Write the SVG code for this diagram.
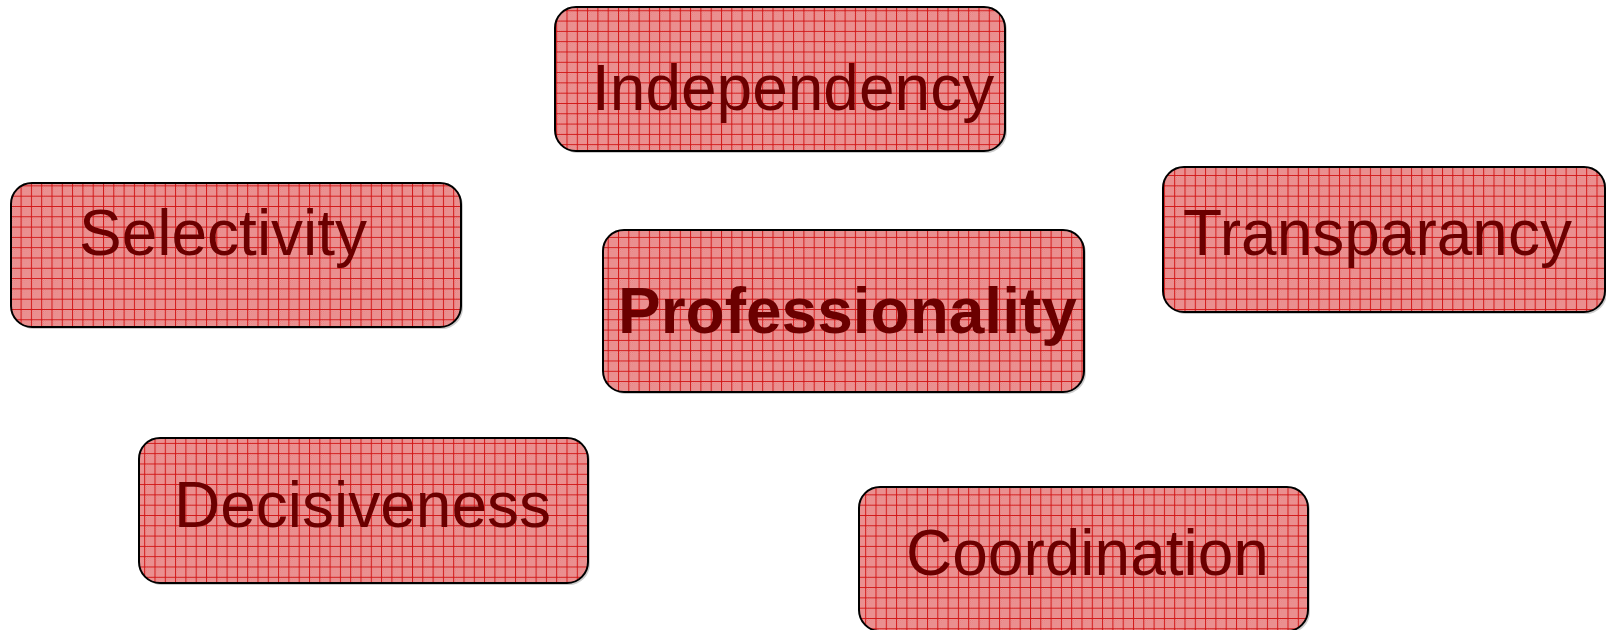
<svg xmlns="http://www.w3.org/2000/svg" width="1606" height="630" viewBox="0 0 1606 630">
<defs>
<pattern id="dither" patternUnits="userSpaceOnUse" width="2" height="2">
<rect width="2" height="2" fill="#F2A6A6"/>
<rect width="1" height="1" fill="#E27878"/>
<rect x="1" y="1" width="1" height="1" fill="#E27878"/>
</pattern>
<pattern id="grid" patternUnits="userSpaceOnUse" width="10.3" height="10.3">
<rect width="10.3" height="10.3" fill="url(#dither)"/>
<path d="M0 0.5H10.3M0.5 0V10.3" stroke="#D21818" stroke-width="1" fill="none"/>
</pattern>
</defs>
<style>
.box{fill:url(#grid);stroke:#000;stroke-width:2}
.sh{fill:#000;opacity:0.2}
.lbl{font-family:"Liberation Sans",Arial,sans-serif;font-size:64px;fill:#6B0000}
.b{font-weight:bold}
</style>
<g id="connectors"/>
<g id="independency">
<rect class="sh" x="557" y="9" width="450" height="144" rx="21"/>
<rect class="box" x="555" y="7" width="450" height="144" rx="21"/>
<text class="lbl" x="592" y="110">Independency</text>
</g>
<g id="selectivity">
<rect class="sh" x="13" y="185" width="450" height="144" rx="21"/>
<rect class="box" x="11" y="183" width="450" height="144" rx="21"/>
<text class="lbl" x="79" y="255">Selectivity</text>
</g>
<g id="professionality">
<rect class="sh" x="605" y="232" width="481" height="162" rx="21"/>
<rect class="box" x="603" y="230" width="481" height="162" rx="21"/>
<text class="lbl b" x="618" y="333">Professionality</text>
</g>
<g id="transparancy">
<rect class="sh" x="1165" y="169" width="442" height="145" rx="21"/>
<rect class="box" x="1163" y="167" width="442" height="145" rx="21"/>
<text class="lbl" x="1183" y="255">Transparancy</text>
</g>
<g id="decisiveness">
<rect class="sh" x="141" y="440" width="449" height="145" rx="21"/>
<rect class="box" x="139" y="438" width="449" height="145" rx="21"/>
<text class="lbl" x="174" y="527">Decisiveness</text>
</g>
<g id="coordination">
<rect class="sh" x="861" y="489" width="449" height="144" rx="21"/>
<rect class="box" x="859" y="487" width="449" height="144" rx="21"/>
<text class="lbl" x="906" y="575">Coordination</text>
</g>
</svg>
